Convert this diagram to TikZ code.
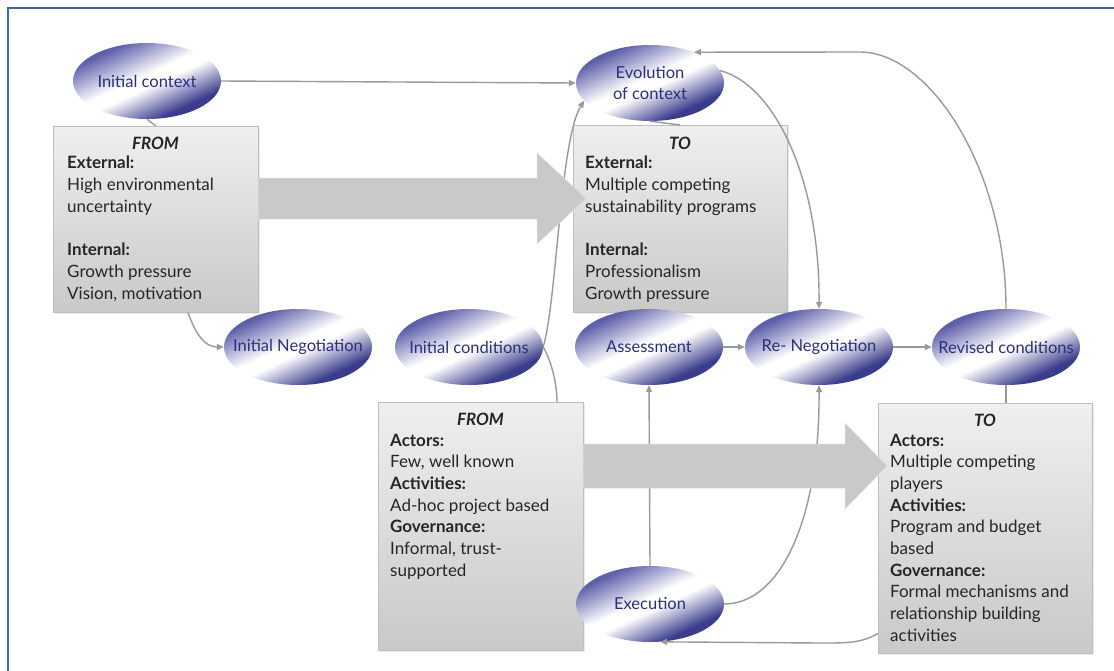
\documentclass[tikz,border=0pt]{standalone}
\usepackage{fontspec}
\setmainfont{Lato}
\usetikzlibrary{shapes.geometric,arrows.meta,calc,shadows}
\definecolor{ellblue}{HTML}{3A3C8C}
\definecolor{ellmid}{HTML}{5E60AA}
\definecolor{elltext}{HTML}{2B2F78}
\definecolor{conncol}{HTML}{999999}
\definecolor{boxtext}{HTML}{262626}
\definecolor{frameblue}{HTML}{3A67A0}
\definecolor{boxtop}{HTML}{EFEFEF}
\definecolor{boxbot}{HTML}{C9C9C9}
\definecolor{boxline}{HTML}{BEBEBE}
\definecolor{bigarr}{HTML}{C9C9C9}
\pgfdeclareverticalshading{ellshade}{100bp}{color(0bp)=(ellblue); color(30bp)=(ellblue); color(47bp)=(white); color(53bp)=(white); color(72bp)=(ellmid); color(100bp)=(ellmid)}
\tikzset{
  ell/.style={ellipse, minimum width=148pt, minimum height=76pt, inner sep=0pt,
    shade, shading=ellshade, shading angle=25},
  elltxt/.style={inner sep=0pt, text=elltext, font=\fontsize{16.5}{21}\selectfont, align=center},
  boxsh/.style={rectangle, draw=boxline, line width=0.6pt, inner sep=0pt,
    top color=boxtop, bottom color=boxbot,
    drop shadow={fill=black!15, shadow xshift=2pt, shadow yshift=-2pt}},
  hdr/.style={inner sep=0pt, text=boxtext, font=\fontsize{17}{21.7}\selectfont\bfseries\itshape},
  txt/.style={anchor=north west, inner sep=0pt, align=left, text=boxtext,
    font=\fontsize{17}{21.7}\selectfont},
  conn/.style={draw=conncol, line width=1.4pt},
  arr/.style={-{Triangle[length=7pt,width=6pt]}},
  bigarrow/.style={fill=bigarr, draw=black!12, line width=0.5pt}
}
\begin{document}
\begin{tikzpicture}[x=1pt,y=-1pt]
\useasboundingbox (0,0) rectangle (1114,670);
\fill[white] (0,0) rectangle (1114,670);
\draw[frameblue, line width=2.6pt] (8,672) -- (8,8) -- (1116,8);

% boxes
\node[boxsh, minimum width=205pt, minimum height=186pt, anchor=north west] (fromA) at (53,126) {};
\node[boxsh, minimum width=214pt, minimum height=187pt, anchor=north west] (toA) at (573,125) {};
\node[boxsh, minimum width=205pt, minimum height=248pt, anchor=north west] (fromB) at (378,402) {};
\node[boxsh, minimum width=214pt, minimum height=250pt, anchor=north west] (toB) at (878,403) {};

% ellipses
\node[ell, label={[elltxt]center:Initial context}] (ic) at (147,81) {};
\node[ell, label={[elltxt]center:Evolution\\of context}] (evo) at (650,83) {};
\node[ell, label={[elltxt]center:Initial Negotiation}] (ineg) at (298,347) {};
\node[ell, label={[elltxt]center:Initial conditions}] (incond) at (469,347) {};
\node[ell, label={[elltxt]center:Assessment}] (assess) at (649,347) {};
\node[ell, label={[elltxt]center:Re- Negotiation}] (reneg) at (819,347) {};
\node[ell, label={[elltxt]center:Revised conditions}] (revc) at (1006,347) {};
\node[ell, label={[elltxt]center:Execution}] (exec) at (650,604) {};

% connectors
\draw[conn,arr] (ic.east) -- (evo.west);
\draw[conn] (ic.south) -- (fromA.north);
\draw[conn] (evo.south) -- (toA.north);
\draw[conn] (revc.south) -- (toB.north -| revc.south);
\draw[conn,arr] ($(fromA.south west)+(135,0)$) .. controls (196,335) and (205,347) .. (ineg.west);
\draw[conn] (incond.east) .. controls (552,362) and (557,385) .. (fromB.north -| 557,0);
\draw[conn,arr] (incond.east) .. controls (557,300) and (560,140) .. (evo.195);
\draw[conn,arr] (evo.10) .. controls (775,85) and (820,180) .. (reneg.north);
\draw[conn,arr] (revc.north) .. controls (1006,170) and (930,52) .. (860,52) -- (evo.35);
\draw[conn,arr] (assess.east) -- (reneg.west);
\draw[conn,arr] (reneg.east) -- (revc.west);
\draw[conn,arr] (exec.north) -- (assess.south);
\draw[conn,arr] (exec.east) .. controls (780,604) and (820,520) .. (reneg.south);
\draw[conn,arr] ($(toB.south west)+(0,-20)$) .. controls (860,643) and (850,643) .. (820,643) -- (exec.-75);

% big arrows
\draw[bigarrow] (258,178) -- (537,178) -- (537,153) -- (586,198.5) -- (537,244) -- (537,219) -- (258,219) -- cycle;
\draw[bigarrow] (583,444) -- (845,444) -- (845,423) -- (887,466) -- (845,509) -- (845,488) -- (583,488) -- cycle;

% texts
\node[hdr] (fromAh) at (155.5,143) {FROM};
\node[txt] (fromAt) at (67,156) {\textbf{External:}\\High environmental\\uncertainty\\[21.7pt]\textbf{Internal:}\\Growth pressure\\Vision, motivation};
\node[hdr] (toAh) at (680,143) {TO};
\node[txt] (toAt) at (585,156) {\textbf{External:}\\Multiple competing\\sustainability programs\\[21.7pt]\textbf{Internal:}\\Professionalism\\Growth pressure};
\node[hdr] (fromBh) at (480.5,419) {FROM};
\node[txt] (fromBt) at (390,433.5) {\textbf{Actors:}\\Few, well known\\\textbf{Activities:}\\Ad-hoc project based\\\textbf{Governance:}\\Informal, trust-\\supported};
\node[hdr] (toBh) at (985,420) {TO};
\node[txt] (toBt) at (890,433.5) {\textbf{Actors:}\\Multiple competing\\players\\\textbf{Activities:}\\Program and budget\\based\\\textbf{Governance:}\\Formal mechanisms and\\relationship building\\activities};
\end{tikzpicture}
\end{document}
